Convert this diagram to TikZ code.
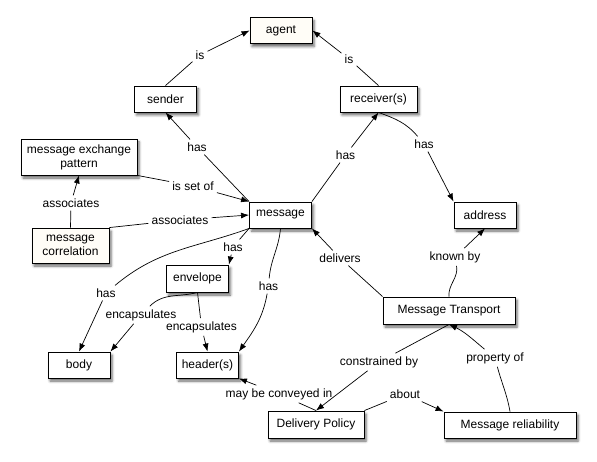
\documentclass[tikz,border=0pt]{standalone}
\usepackage{fontspec}
\setmainfont{Liberation Sans}
\usetikzlibrary{arrows.meta, positioning, shadows.blur}

\begin{document}
\begin{tikzpicture}[x=1pt, y=1pt, font=\fontsize{12}{14}\selectfont]

			% Define colour for the two shaded boxes
			\definecolor{cream}{RGB}{255,253,247}

			% Define style for boxes
			\tikzstyle{concept} = [rectangle, draw, line width=0.9pt, fill=white,
								minimum width=62pt, minimum height=26pt, inner sep=2pt,
								align=center, blur shadow={shadow xshift=2pt, shadow yshift=-3pt,
								shadow blur radius=2.5pt, shadow opacity=60}]

			% Define style for link phrases
			\tikzstyle{phrase} = [inner sep=3pt]

			% Define style for arrows
			\tikzstyle{line} = [draw, line width=0.7pt]
			\tikzstyle{arrow} = [draw, line width=0.7pt, -{Latex[length=8pt, width=6pt]}]

			\useasboundingbox (0,0) rectangle (597,-462);

			% Place nodes
			\node [concept, fill=cream] (agent) at (281,-30.5) {agent};
			\node [concept] (sender) at (165.5,-99) {sender};
			\node [concept, minimum width=77pt] (receiver) at (378.5,-99) {receiver(s)};
			\node [concept, minimum width=116pt, minimum height=36pt] (mep) at (79,-157) {message exchange\\pattern};
			\node [concept] (message) at (280.5,-215) {message};
			\node [concept] (address) at (485,-215) {address};
			\node [concept, fill=cream, minimum width=77pt, minimum height=35pt] (correlation) at (70.5,-245.5) {message\\correlation};
			\node [concept, minimum height=27pt] (envelope) at (197.5,-278.5) {envelope};
			\node [concept, minimum width=132pt, minimum height=27pt] (transport) at (449,-310.5) {Message Transport};
			\node [concept] (body) at (79,-365) {body};
			\node [concept] (header) at (207.5,-365) {header(s)};
			\node [concept, minimum width=96pt, minimum height=27pt] (policy) at (316,-424.5) {Delivery Policy};
			\node [concept, minimum width=132pt] (reliability) at (510,-425) {Message reliability};

			% Place link phrases
			\node [phrase] (isA) at (200,-55) {is};
			\node [phrase] (isB) at (349,-59) {is};
			\node [phrase] (hasA) at (197,-147) {has};
			\node [phrase] (hasB) at (345.5,-155) {has};
			\node [phrase] (hasC) at (424,-144) {has};
			\node [phrase] (isSetOf) at (193,-186) {is set of};
			\node [phrase] (assocA) at (180,-220) {associates};
			\node [phrase] (assocB) at (71,-203) {associates};
			\node [phrase] (hasD) at (233,-247) {has};
			\node [phrase] (hasE) at (106,-293) {has};
			\node [phrase] (hasF) at (268.5,-286) {has};
			\node [phrase] (encA) at (141,-315) {encapsulates};
			\node [phrase] (encB) at (201.5,-327) {encapsulates};
			\node [phrase] (delivers) at (340,-258) {delivers};
			\node [phrase] (knownBy) at (455,-257) {known by};
			\node [phrase] (mayBe) at (279,-394) {may be conveyed in};
			\node [phrase] (constrained) at (379,-362) {constrained by};
			\node [phrase] (property) at (495,-358) {property of};
			\node [phrase] (about) at (405,-394) {about};

			% Draw edges
			\path [line] (sender.north) -- (isA);
			\path [arrow] (isA) -- (agent.west);
			\path [line] (receiver.north) -- (isB);
			\path [arrow] (isB) -- (agent.east);
			\path [line] (message.north west) -- (hasA);
			\path [arrow] (hasA) -- (sender.south);
			\path [line] (message.north east) -- (hasB);
			\path [arrow] (hasB) -- (receiver.south);
			\path [line] (receiver.south) to[out=-20, in=130] (hasC);
			\path [arrow] (hasC) -- (address.north west);
			\path [line] (mep.south east) -- (isSetOf);
			\path [arrow] (isSetOf) -- (message.north west);
			\path [line] (correlation.north east) -- (assocA);
			\path [arrow] (assocA) -- (message.west);
			\path [line] (correlation.north) -- (assocB);
			\path [arrow] (assocB) -- (mep.south);
			\path [line] (message.south west) -- (hasD);
			\path [arrow] (hasD) -- (envelope.north east);
			\path [line] (message.south west) to[out=200, in=40] (hasE);
			\path [arrow] (hasE) -- (body.north);
			\path [line] (message.south) to[out=-95, in=85] (hasF);
			\path [arrow] (hasF) to[out=-100, in=55] (header.north east);
			\path [line] (envelope.south) to[out=195, in=45] (encA);
			\path [arrow] (encA) -- (body.north east);
			\path [line] (envelope.south) -- (encB);
			\path [arrow] (encB) -- (header.north);
			\path [line] (transport.north west) -- (delivers);
			\path [arrow] (delivers) -- (message.south east);
			\path [line] (transport.north) to[out=95, in=-80] (knownBy);
			\path [arrow] (knownBy) -- (address.south);
			\path [line] (policy.north) -- (mayBe);
			\path [arrow] (mayBe) -- (header.south east);
			\path [line] (transport.south) -- (constrained);
			\path [arrow] (constrained) -- (policy.north);
			\path [line] (reliability.north) to[out=100, in=-75] (property);
			\path [arrow] (property) to[out=140, in=-25] (transport.south);
			\path [line] (policy.north east) -- (about);
			\path [arrow] (about) -- (reliability.north west);
		\end{tikzpicture}
\end{document}
